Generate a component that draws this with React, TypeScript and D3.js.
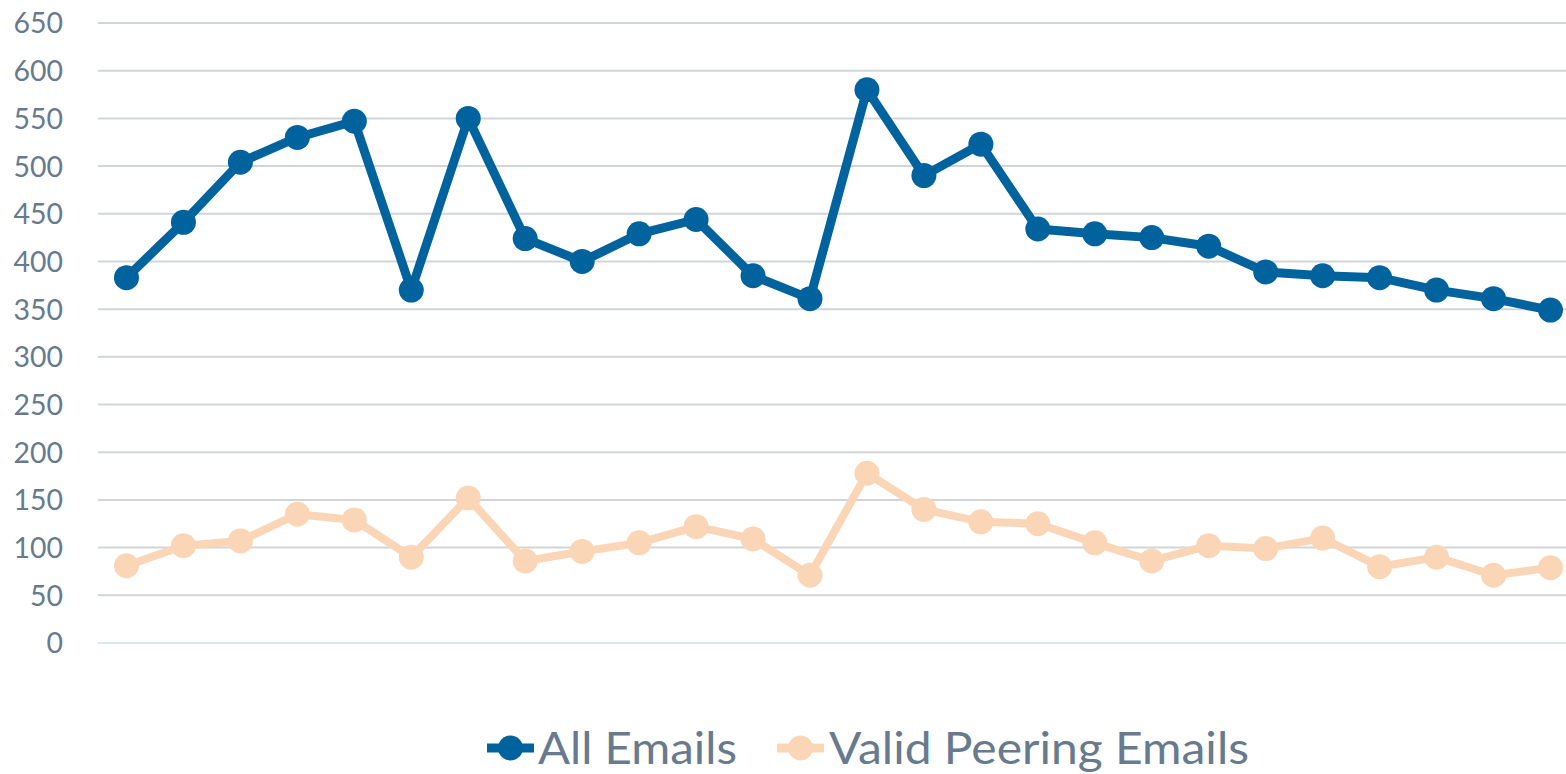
import React from 'react'
import * as d3 from 'd3'

const allEmails = [383, 441, 504, 530, 547, 370, 550, 424, 400, 429, 444, 385, 361, 580, 490, 523, 434, 429, 425, 416, 389, 385, 383, 370, 361, 349]
const validPeering = [81, 102, 107, 135, 129, 90, 152, 86, 96, 105, 122, 109, 71, 178, 140, 127, 125, 105, 86, 102, 99, 110, 80, 90, 71, 79]
const yTicks = [0, 50, 100, 150, 200, 250, 300, 350, 400, 450, 500, 550, 600, 650]
const seriesNames = ['All Emails', 'Valid Peering Emails']
const seriesColors = ['#00639E', '#FAD6B7']

const W = 1566
const H = 774

export default function App() {
    const x = d3.scaleBand<number>()
        .domain(d3.range(allEmails.length))
        .range([98, 98 + 26 * 56.96])
    const y = d3.scaleLinear().domain([0, 650]).range([643, 23])
    const cx = (i: number) => (x(i) as number) + x.bandwidth() / 2

    const line = d3.line<number>()
        .x((d, i) => cx(i))
        .y(d => y(d))

    const series = [allEmails, validPeering]

    return (
        <svg width={W} height={H} style={{ position: 'absolute', left: 0, top: 0, background: '#fff' }}
            fontFamily="Lato, 'Open Sans', sans-serif">
            {yTicks.map(t => (
                <g key={t}>
                    <line x1={98} x2={W} y1={y(t)} y2={y(t)}
                        stroke={t === 0 ? '#D5E8F4' : '#D1D5DA'} strokeWidth={2} />
                    <text x={63} y={y(t)} dy="0.36em" textAnchor="end" fontSize={29} fill="#687A8E"
                        textLength={String(t).length * 16.5} lengthAdjust="spacingAndGlyphs">{t}</text>
                </g>
            ))}
            {series.map((s, k) => (
                <g key={k}>
                    <path d={line(s) || ''} fill="none" stroke={seriesColors[k]} strokeWidth={k === 0 ? 9 : 8} strokeLinejoin="round" />
                    {s.map((v, i) => (
                        <circle key={i} cx={cx(i)} cy={y(v)} r={12.5} fill={seriesColors[k]} />
                    ))}
                </g>
            ))}
            {/* legend */}
            {[{ x0: 487, tx: 538, tw: 199 }, { x0: 777, tx: 829, tw: 420 }].map((l, k) => (
                <g key={k}>
                    <line x1={l.x0} x2={l.x0 + 47} y1={748} y2={748} stroke={seriesColors[k]} strokeWidth={9} />
                    <circle cx={l.x0 + 23.5} cy={748} r={12.5} fill={seriesColors[k]} />
                    <text x={l.tx} y={764} fontSize={45} fill="#687A8E" textLength={l.tw} lengthAdjust="spacingAndGlyphs">{seriesNames[k]}</text>
                </g>
            ))}
        </svg>
    )
}
